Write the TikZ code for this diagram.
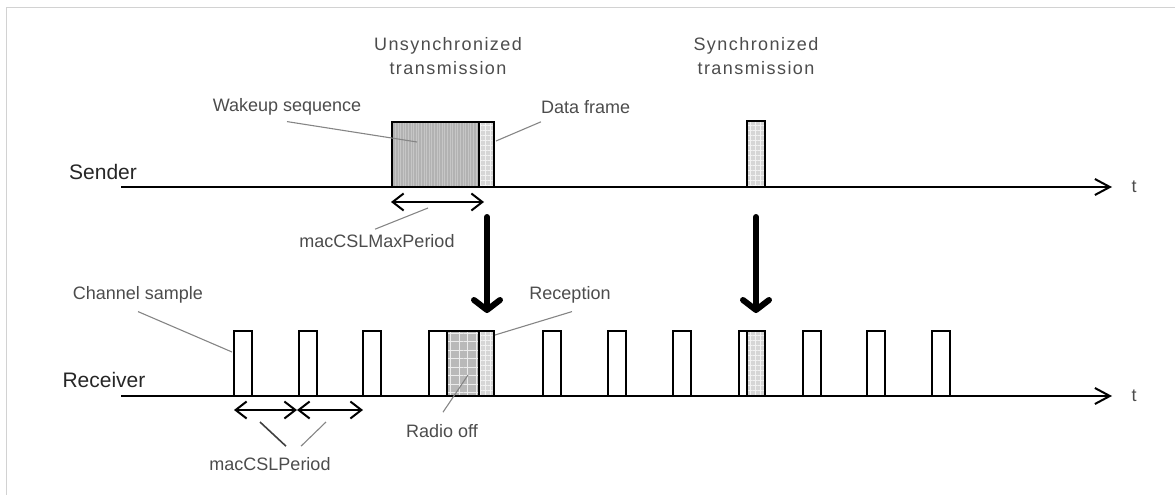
\documentclass[tikz,border=0pt]{standalone}
\usepackage{fontspec}
\setmainfont{Liberation Sans}
\newfontfamily\wideface[LetterSpace=8]{Liberation Sans}
\usetikzlibrary{arrows.meta,patterns.meta}

\definecolor{inkgray}{HTML}{4C4C4C}
\definecolor{leadgray}{HTML}{858585}

\tikzset{
  timeaxis/.style={line width=2.6pt, -{Straight Barb[length=15pt,width=16pt,line width=2pt]}},
  pulsebox/.style={line width=2.8pt, fill=white},
  wakefill/.style={line width=2.8pt, preaction={fill=gray!60},
    preaction={pattern={Lines[angle=90,distance=2.6pt,line width=0.6pt]}, pattern color=gray!45}},
  rxfill/.style={line width=2.8pt, preaction={fill=gray!55},
    preaction={pattern={Hatch[angle=0,distance=8.5pt,line width=1pt]}, pattern color=white!85!gray}},
  framefill/.style={line width=2.8pt, preaction={fill=gray!32},
    preaction={pattern={Hatch[angle=0,distance=5pt,line width=0.8pt]}, pattern color=white!90!gray}},
  spanarrow/.style={line width=2.6pt,
    {Straight Barb[length=11pt,width=17pt,line width=2pt]}-{Straight Barb[length=11pt,width=17pt,line width=2pt]}},
  hoparrow/.style={line width=6pt, line cap=round, -{Straight Barb[length=10pt,width=26pt,round]}},
  leader/.style={draw=leadgray, line width=1.1pt},
  tagtext/.style={font=\fontsize{18}{20}\selectfont, text=inkgray, inner sep=0pt},
  roletext/.style={font=\fontsize{21}{24}\selectfont, text=black!85, inner sep=0pt},
  titletext/.style={font=\wideface\fontsize{18}{24}\selectfont, text=inkgray, align=center, inner sep=0pt},
}

\begin{document}
\begin{tikzpicture}[x=1pt,y=-1pt]
  \useasboundingbox (0,0) rectangle (1175,495);
  \draw[gray!35, line width=0.8pt] (6,495) -- (6,7) -- (1175,7);

  % sender
  \draw[wakefill] (392,122) rectangle (479,187);
  \draw[framefill] (479,122) rectangle (494,187);
  \draw[framefill] (747,121) rectangle (765,187);
  \coordinate (sendStart) at (121,187);
  \coordinate (sendEnd) at (1112,187);
  \draw[timeaxis] (sendStart) -- (sendEnd);
  \node[roletext] (sender) at (103,172) {Sender};
  \node[tagtext] (tSend) at (1134,187) {t};

  % receiver
  \foreach \x in {234,299,363,429,543,608,673,739,803,867,932}
    \draw[pulsebox] (\x,331) rectangle ++(18,65);
  \draw[rxfill] (447,331) rectangle (479,396);
  \draw[framefill] (479,331) rectangle (494,396);
  \draw[framefill] (747,331) rectangle (765,396);
  \coordinate (recvStart) at (121,396);
  \coordinate (recvEnd) at (1112,396);
  \draw[timeaxis] (recvStart) -- (recvEnd);
  \node[roletext] (receiver) at (104,380) {Receiver};
  \node[tagtext] (tRecv) at (1134,396) {t};

  % titles
  \node[titletext] (unsync) at (448,56) {Unsynchronized\\transmission};
  \node[titletext] (sync) at (756,56) {Synchronized\\transmission};

  % labels
  \node[tagtext] (wake) at (287,107) {Wakeup sequence};
  \node[tagtext, anchor=west] (frameTag) at (541,107) {Data frame};
  \node[tagtext] (maxp) at (377,241) {macCSLMaxPeriod};
  \node[tagtext] (chan) at (138,295) {Channel sample};
  \node[tagtext] (recep) at (570,295) {Reception};
  \node[tagtext] (radio) at (442,431) {Radio off};
  \node[tagtext] (cslp) at (270,464) {macCSLPeriod};

  % leaders
  \coordinate (wakeTip) at (417,142);
  \coordinate (frameTip) at (496,141);
  \coordinate (maxpTip) at (428,208);
  \coordinate (chanTip) at (232,352);
  \coordinate (recepTip) at (495,335);
  \coordinate (radioTip) at (468,375);
  \coordinate (cslpA) at (260,422);
  \coordinate (cslpB) at (326,422);
  \draw[leader] ([yshift=-6pt]wake.south) -- (wakeTip);
  \draw[leader] ([yshift=-8pt]frameTag.south west) -- (frameTip);
  \draw[leader] ([xshift=-2pt,yshift=5pt]maxp.north) -- (maxpTip);
  \draw[leader] ([yshift=-8pt]chan.south) -- (chanTip);
  \draw[leader] ([xshift=2pt,yshift=-8pt]recep.south) -- (recepTip);
  \draw[leader] ([xshift=1pt,yshift=12pt]radio.north) -- (radioTip);
  \draw[leader, draw=black!75, line width=1.6pt] ([xshift=16pt,yshift=11pt]cslp.north) -- (cslpA);
  \draw[leader] ([xshift=31pt,yshift=11pt]cslp.north) -- (cslpB);

  % spans
  \coordinate (maxL) at (391,202);
  \coordinate (maxR) at (484,202);
  \coordinate (cslL) at (234,410);
  \coordinate (cslM) at (297,410);
  \coordinate (cslR) at (363,410);
  \draw[spanarrow] (maxL) -- (maxR);
  \draw[spanarrow] (cslL) -- (cslM);
  \draw[spanarrow] (cslM) -- (cslR);

  % transmissions
  \coordinate (hopA1) at (487,217);
  \coordinate (hopA2) at (487,313);
  \coordinate (hopB1) at (756,217);
  \coordinate (hopB2) at (756,313);
  \draw[hoparrow] (hopA1) -- (hopA2);
  \draw[hoparrow] (hopB1) -- (hopB2);
\end{tikzpicture}
\end{document}
